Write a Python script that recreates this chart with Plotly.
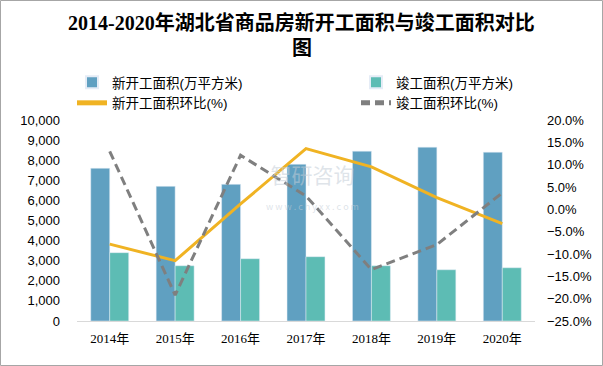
import plotly.graph_objects as go

years = ["2014年", "2015年", "2016年", "2017年", "2018年", "2019年", "2020年"]
new_area = [7600, 6700, 6800, 7800, 8450, 8650, 8400]
done_area = [3400, 2750, 3100, 3200, 2750, 2550, 2650]
new_ratio = [-7.8, -11.5, 1.2, 13.6, 9.5, 2.6, -3.2]
done_ratio = [13.0, -19.2, 12.1, 3.0, -13.5, -7.9, 3.7]

W, H = 603, 366
L, R, T, B = 77, 68, 120, 45
pw, ph = W - L - R, H - T - B

def px_x(x):
    return (x - L) / pw

def px_y(y):
    return (H - B - y) / ph

fig = go.Figure()
fig.add_trace(go.Bar(x=years, y=new_area, name="新开工面积(万平方米)", marker_color="#60A0C1",
                     legend="legend"))
fig.add_trace(go.Bar(x=years, y=done_area, name="竣工面积(万平方米)", marker_color="#5DBCB4",
                     legend="legend2"))
fig.add_trace(go.Scatter(x=years, y=new_ratio, name="新开工面积环比(%)", yaxis="y2", mode="lines",
                         line=dict(color="#F0B323", width=3), legend="legend"))
fig.add_trace(go.Scatter(x=years, y=done_ratio, name="竣工面积环比(%)", yaxis="y2", mode="lines",
                         line=dict(color="#7F7F7F", width=3, dash="9px,5px"), legend="legend2"))

font_main = "Liberation Sans, Noto Sans CJK SC, sans-serif"
title_font = dict(family="Liberation Serif, Noto Sans CJK SC, serif", size=20, color="#000000")
leg_common = dict(orientation="v", xanchor="left", yanchor="top", xref="container", yref="container",
                  font=dict(size=13.5, color="#000000"), bgcolor="rgba(0,0,0,0)",
                  traceorder="normal", tracegroupgap=0, itemsizing="constant")

fig.update_layout(
    width=W, height=H,
    margin=dict(l=L, r=R, t=T, b=B, autoexpand=False),
    paper_bgcolor="white", plot_bgcolor="white",
    barmode="group", bargap=0.42, bargroupgap=0,
    font=dict(family=font_main, size=13, color="#000000"),
    showlegend=True,
    legend=dict(x=72 / W, y=1 - 67 / H, **leg_common),
    legend2=dict(x=356 / W, y=1 - 67 / H, **leg_common),
    xaxis=dict(showgrid=False, showline=True, linecolor="#D9D9D9", linewidth=1, ticks="",
               tickangle=0, automargin=False, ticklabelstandoff=5,
               tickfont=dict(size=13, family="Liberation Serif, Noto Sans CJK SC, serif")),
    yaxis=dict(range=[0, 10000], dtick=1000, tickformat=",", showgrid=False, zeroline=False,
               showline=False, ticks="", automargin=False, ticklabelstandoff=16,
               tickfont=dict(size=13)),
    yaxis2=dict(range=[-25, 20], dtick=5, tickformat=".1f", ticksuffix="%", overlaying="y", side="right",
                showgrid=False, zeroline=False, showline=False, ticks="", automargin=False,
                ticklabelstandoff=11, tickfont=dict(size=13)),
    shapes=[dict(type="rect", xref="paper", yref="paper",
                 x0=px_x(0.5), x1=px_x(W - 0.5), y0=px_y(H - 0.5), y1=px_y(0.5),
                 line=dict(color="#A6A6A6", width=1), layer="below")],
    annotations=[
        dict(text="<b>2014-2020年湖北省商品房新开工面积与竣工面积对比</b>", xref="paper", yref="paper",
             x=px_x(W / 2), y=px_y(22), xanchor="center", yanchor="middle", showarrow=False, font=title_font),
        dict(text="<b>图</b>", xref="paper", yref="paper",
             x=px_x(W / 2), y=px_y(48), xanchor="center", yanchor="middle", showarrow=False, font=title_font),
        dict(text="智研咨询<br><span style='font-size:9px'>w w w . c h y x x . c o m</span>",
             xref="paper", yref="paper", x=px_x(312), y=px_y(157), align="center",
             showarrow=False, font=dict(size=21, color="rgba(195,205,215,0.55)", family="Noto Sans CJK SC")),
    ],
)

fig.write_html("out.html", post_script="document.body.style.margin='0';",
               config={"displayModeBar": False})
